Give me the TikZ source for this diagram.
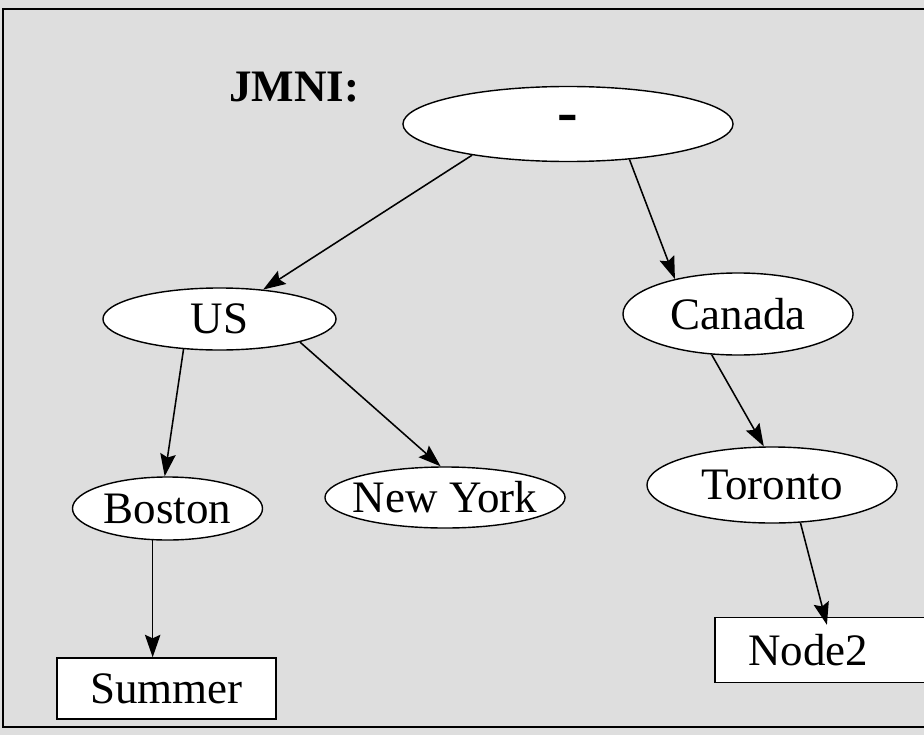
\documentclass[tikz,border=0pt]{standalone}
\usepackage{fontspec}
\setmainfont{Liberation Serif}
\usetikzlibrary{shapes.geometric,arrows.meta}
\newcommand{\tag}[1]{\makebox[0pt]{#1}}
\tikzstyle{place} = [draw=black, fill=white, line width=1pt,
    ellipse, inner sep=0pt, font=\fontsize{32}{38}\selectfont]
\tikzstyle{leaf} = [draw=black, fill=white, line width=1pt,
    rectangle, inner sep=0pt, font=\fontsize{32}{38}\selectfont]
\tikzstyle{link} = [-{Stealth[length=16pt,width=11pt,inset=2.5pt]}, line width=1.1pt]

\begin{document}
\begin{tikzpicture}[x=0.025cm, y=-0.025cm]
                \useasboundingbox (0,0) rectangle (924,735);
                \fill[black!13] (0,0) rectangle (924,735);
                \draw[line width=0.8pt] (924,9) -- (3,9) -- (3,727) -- (924,727);
                \node[anchor=base west, inner sep=0pt, font=\fontsize{32}{38}\selectfont\bfseries] (title) at (229,102) {JMNI:};
                \node[place, minimum width=8.25cm, minimum height=1.875cm] (root) at (568,124) {\fontsize{44}{44}\selectfont\bfseries\raisebox{-3pt}{-}};
                \node[place, minimum width=5.825cm, minimum height=1.55cm] (us) at (219.5,319) {\tag{US}};
                \node[place, minimum width=5.75cm, minimum height=2.05cm] (canada) at (738,314) {\tag{Canada}};
                \node[place, minimum width=4.75cm, minimum height=1.575cm] (boston) at (167.5,508.5) {\tag{Boston}};
                \node[place, minimum width=6cm, minimum height=1.525cm] (newyork) at (445,497.5) {\tag{New York}};
                \node[place, minimum width=6.25cm, minimum height=1.9cm] (toronto) at (772,485) {\tag{Toronto}};
                \node[leaf, minimum width=5.475cm, minimum height=1.525cm] (summer) at (166.5,688.5) {\tag{Summer}};
                \node[leaf, minimum width=5.375cm, minimum height=1.625cm] (node2) at (822.5,650) {\tag{Node2\hspace{20pt}}};
                \draw[link] (root.198) -- (us.34);
                \draw[link] (root.330) -- (canada.151);
                \draw[link] (us.220) -- (boston.95);
                \draw[link] (us.344) -- (newyork.98);
                \draw[link] (canada.237) -- (toronto.102);
                \draw[link] (boston.245) -- (boston.245 |- summer.north);
                \draw[link] (toronto.307) -- ([xshift=0.11cm,yshift=-0.2cm]node2.north);
            \end{tikzpicture}
\end{document}
